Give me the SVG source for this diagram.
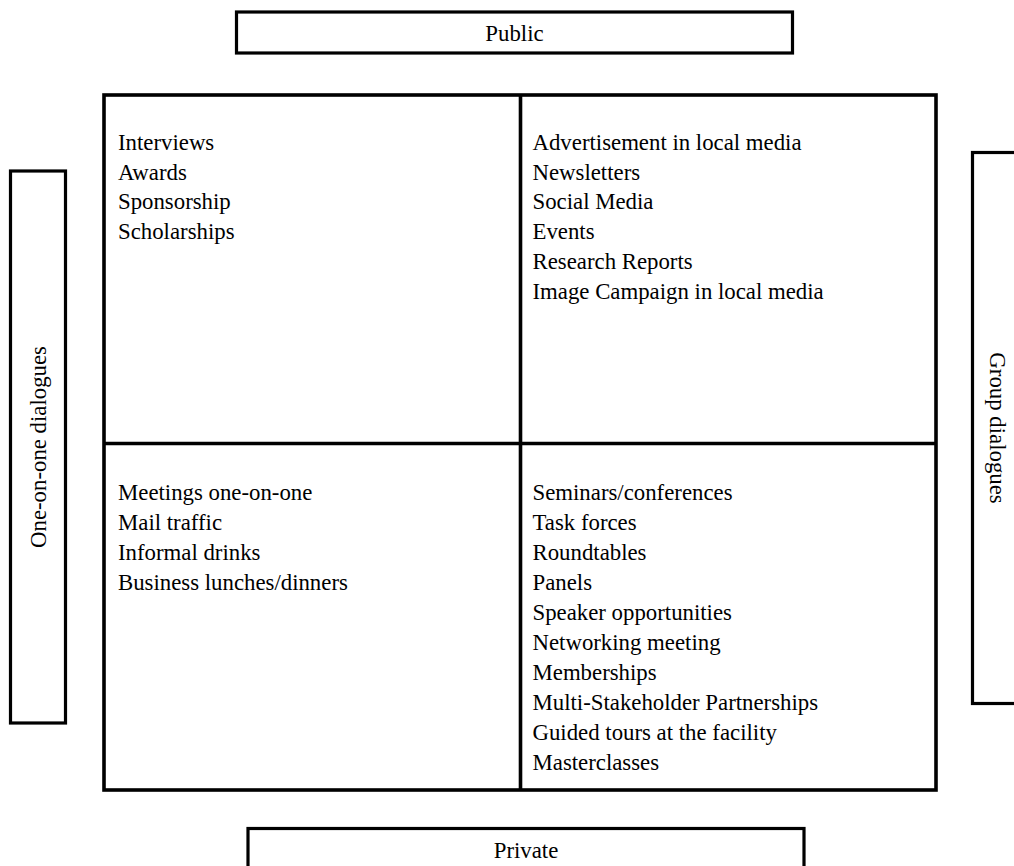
<svg xmlns="http://www.w3.org/2000/svg" width="1014" height="866" viewBox="0 0 1014 866">
<style>
.box{fill:#fff;stroke:#000;stroke-width:3.2}
.grid{fill:none;stroke:#000;stroke-width:3.6}
text{font-family:"Liberation Serif","Times New Roman",serif;font-size:22.8px;fill:#000}
.c{text-anchor:middle}
</style>
<rect width="1014" height="866" fill="#fff"/>
<g id="public"><rect class="box" x="236.5" y="12" width="556" height="41"/><text class="c" x="514.5" y="41">Public</text></g>
<g id="private"><rect class="box" x="248" y="828.5" width="556" height="50"/><text class="c" x="526" y="858">Private</text></g>
<g id="one-on-one"><rect class="box" x="10.5" y="171" width="55" height="552"/><text class="c" transform="translate(46,447) rotate(-90)">One-on-one dialogues</text></g>
<g id="group"><rect class="box" x="972.5" y="152.5" width="60" height="551"/><text class="c" transform="translate(990,428) rotate(90)">Group dialogues</text></g>
<g id="connectors">
<rect class="grid" x="104" y="95" width="832" height="695"/>
<line class="grid" x1="520.5" y1="95" x2="520.5" y2="790"/>
<line class="grid" x1="104" y1="443.5" x2="936" y2="443.5"/>
</g>
<g id="q-public-one">
<text x="118" y="150">Interviews</text>
<text x="118" y="179.7">Awards</text>
<text x="118" y="209.4">Sponsorship</text>
<text x="118" y="239.1">Scholarships</text>
</g>
<g id="q-public-group">
<text x="532.5" y="150">Advertisement in local media</text>
<text x="532.5" y="179.7">Newsletters</text>
<text x="532.5" y="209.4">Social Media</text>
<text x="532.5" y="239.1">Events</text>
<text x="532.5" y="268.8">Research Reports</text>
<text x="532.5" y="298.5">Image Campaign in local media</text>
</g>
<g id="q-private-one">
<text x="118" y="500">Meetings one-on-one</text>
<text x="118" y="530">Mail traffic</text>
<text x="118" y="560">Informal drinks</text>
<text x="118" y="590">Business lunches/dinners</text>
</g>
<g id="q-private-group">
<text x="532.5" y="500">Seminars/conferences</text>
<text x="532.5" y="530">Task forces</text>
<text x="532.5" y="560">Roundtables</text>
<text x="532.5" y="590">Panels</text>
<text x="532.5" y="620">Speaker opportunities</text>
<text x="532.5" y="650">Networking meeting</text>
<text x="532.5" y="680">Memberships</text>
<text x="532.5" y="710">Multi-Stakeholder Partnerships</text>
<text x="532.5" y="740">Guided tours at the facility</text>
<text x="532.5" y="770">Masterclasses</text>
</g>
</svg>
